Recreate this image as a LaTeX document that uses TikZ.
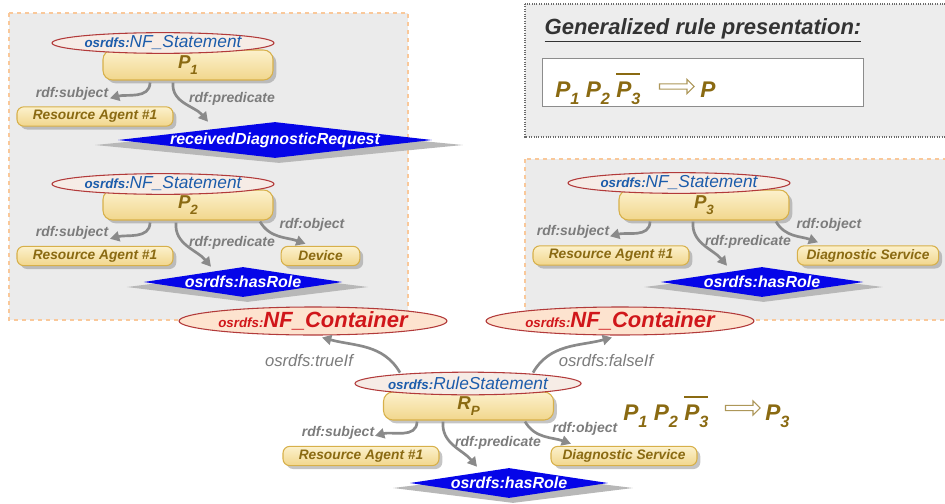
\documentclass[tikz,border=0pt]{standalone}
\usepackage{fontspec}
\setmainfont{Liberation Sans}
\usepackage{graphicx}
\usepackage{tikz}
\usetikzlibrary{arrows.meta,positioning,shapes.geometric,shapes.arrows,shadows,calc}
\definecolor{panel}{HTML}{EBEBEB}
\definecolor{panelrim}{HTML}{F9C89A}
\definecolor{rulerim}{HTML}{6A6A6A}
\definecolor{boxtop}{HTML}{FCF1CC}
\definecolor{boxbot}{HTML}{F1D68C}
\definecolor{boxrim}{HTML}{D7B04A}
\definecolor{ochre}{HTML}{8A6A12}
\definecolor{ovalfill}{HTML}{F6ECE6}
\definecolor{ovalrim}{HTML}{B23A3A}
\definecolor{stmtblue}{HTML}{1C5CAB}
\definecolor{contfill}{HTML}{FDE3CF}
\definecolor{contred}{HTML}{D0161A}
\definecolor{rolefill}{HTML}{0505E8}
\definecolor{edgegray}{HTML}{8A8A8A}
\definecolor{labelgray}{HTML}{7C7C7C}
\newcommand{\fsz}[1]{\fontsize{#1}{#1}\selectfont}
\newcommand{\idx}[1]{\raisebox{-.32em}{\scalebox{.72}{#1}}}
\newcommand{\negated}[1]{\leavevmode\vbox{\hrule height 1.8pt\kern 4.6pt\hbox{#1}}}
\newcommand{\osr}{{\fsz{10}\bfseries osrdfs:}}
\tikzset{
  >={Triangle[length=7pt,width=7.5pt]},
  rel/.style={->,line width=2pt,draw=edgegray},
  rellabel/.style={font=\fsz{10.5}\bfseries\itshape,text=labelgray,inner sep=0},
  iflabel/.style={font=\fsz{12.5}\itshape,text=labelgray,inner sep=0},
  stmtbox/.style={rounded corners=2.5mm,draw=boxrim,line width=.8pt,top color=boxtop,bottom color=boxbot,
    minimum width=127.5pt,minimum height=22.5pt,inner sep=0,font=\fsz{14}\bfseries\itshape,text=ochre,
    drop shadow={shadow xshift=2.5pt,shadow yshift=-2.5pt,fill=black!45}},
  resbox/.style={stmtbox,rounded corners=1.8mm,minimum width=117pt,minimum height=14.5pt,
    font=\fsz{10.3}\bfseries\itshape},
  stmtoval/.style={ellipse,draw=ovalrim,line width=.8pt,fill=ovalfill,inner sep=0,
    minimum width=150pt,minimum height=15.5pt,font=\fsz{13}\itshape,text=stmtblue},
  contoval/.style={stmtoval,fill=contfill,minimum width=178pt,minimum height=21pt,
    font=\fsz{16.5}\bfseries\itshape,text=contred},
  rolediamond/.style={diamond,aspect=8,fill=rolefill,inner xsep=0,inner ysep=-4pt,
    minimum height=22.5pt,font=\fsz{12}\bfseries\itshape,text=white},
  roleshade/.style={diamond,aspect=8,fill=black!28,inner sep=0,minimum height=22.5pt},
  panelbox/.style={draw=panelrim,fill=panel,dashed,line width=.8pt},
  impl/.style={single arrow,draw=ochre!70,fill=white,line width=.8pt,minimum height=26pt,
    inner sep=1.6pt,single arrow head extend=3.4pt},
  formula/.style={font=\fsz{17}\bfseries\itshape,text=ochre,inner sep=0,anchor=base west}
}
\begin{document}
\begin{tikzpicture}[x=0.75pt,y=-0.75pt]
  \useasboundingbox (0,0) rectangle (945,503);
  % panels
  \filldraw[panelbox] (9,13) rectangle (408,320);
  \filldraw[panelbox] (525,159) rectangle (955,320);
  \filldraw[draw=rulerim,fill=black!7,densely dotted,line width=.8pt] (525,4) rectangle (955,137);
  \node[font=\fsz{16.5}\bfseries\itshape,text=black!80] (title) at (703,30) {\underline{Generalized rule presentation:}};
  \node[draw=black!45,fill=white,line width=.6pt,minimum width=240.75pt,minimum height=36pt] (rulebox) at (702.5,82) {};
  \node[formula] (f1) at (555,97) {P\idx{1} P\idx{2} \negated{P\idx{3}}};
  \node[impl] (i1) at (675.5,86.5) {};
  \node[formula] (c1) at (700,97) {P};

  % P1
  \node[stmtbox] (p1) at (188,65) {P\idx{1}};
  \node[stmtoval] (s1) at (163,43) {\osr NF\_Statement};
  \node[resbox] (ra1) at (95,116.5) {Resource Agent \#1};
  \node[roleshade,minimum width=276pt,minimum height=27pt] (d1sh) at (279,145) {};
  \node[rolediamond,minimum width=235.5pt,minimum height=27pt] (d1) at (275,140) {receivedDiagnosticRequest};
  \node[rellabel] (subj1) at (72,94) {rdf:subject};
  \node[rellabel] (pred1) at (232,99) {rdf:predicate};
  \draw[rel] ($(p1.south)+(-38,2)$) to[out=-90,in=15] ($(ra1.north)+(15,-8)$);
  \draw[rel] ($(p1.south)+(-15,2)$) to[out=-95,in=130] ($(d1.north)+(-67,0)$);

  % P2
  \node[stmtbox] (p2) at (188,205) {P\idx{2}};
  \node[stmtoval] (s2) at (163,184) {\osr NF\_Statement};
  \node[resbox] (ra2) at (95,256) {Resource Agent \#1};
  \node[resbox,minimum width=59pt] (dev) at (320.5,256) {Device};
  \node[roleshade,minimum width=181pt] (d2sh) at (247.5,287) {};
  \node[rolediamond,minimum width=149pt] (d2) at (243,282) {osrdfs:hasRole};
  \node[rellabel] (subj2) at (72,233) {rdf:subject};
  \node[rellabel] (pred2) at (232,243) {rdf:predicate};
  \node[rellabel] (obj2) at (312,225) {rdf:object};
  \draw[rel] ($(p2.south)+(-38,2)$) to[out=-90,in=15] ($(ra2.north)+(15,-7)$);
  \draw[rel] ($(p2.south)+(-12,2)$) to[out=-95,in=130] ($(d2.north)+(-32,0)$);
  \draw[rel] ($(p2.south)+(72,1)$) to[out=-60,in=160] ($(dev.north)+(-15,-2)$);

  % P3
  \node[stmtbox] (p3) at (704,205) {P\idx{3}};
  \node[stmtoval] (s3) at (679,183) {\osr NF\_Statement};
  \node[resbox] (ra3) at (611,255.5) {Resource Agent \#1};
  \node[resbox,minimum width=106pt] (dsv3) at (868,255.5) {Diagnostic Service};
  \node[roleshade,minimum width=179pt] (d3sh) at (763.5,287) {};
  \node[rolediamond,minimum width=152pt] (d3) at (762,282) {osrdfs:hasRole};
  \node[rellabel] (subj3) at (573,232) {rdf:subject};
  \node[rellabel] (pred3) at (748,242) {rdf:predicate};
  \node[rellabel] (obj3) at (829,225) {rdf:object};
  \draw[rel] ($(p3.south)+(-54,1)$) to[out=-90,in=15] ($(ra3.north)+(-1,-9)$);
  \draw[rel] ($(p3.south)+(-11,1)$) to[out=-95,in=130] ($(d3.north)+(-35,-1)$);
  \draw[rel] ($(p3.south)+(72,1)$) to[out=-60,in=160] ($(dsv3.north)+(-50,-3)$);

  % containers
  \node[contoval] (nfcL) at (313,321) {\osr NF\_Container};
  \node[contoval] (nfcR) at (620,321) {\osr NF\_Container};

  % rule statement
  \node[stmtbox,minimum height=21pt] (rp) at (468.5,406) {R\idx{P}};
  \node[stmtoval,minimum width=154.5pt,minimum height=17pt] (rs) at (468,383.5) {\osr RuleStatement};
  \node[resbox] (rar) at (361,456) {Resource Agent \#1};
  \node[resbox,minimum width=109.5pt] (dsvr) at (624,456) {Diagnostic Service};
  \node[roleshade,minimum width=180pt] (rdsh) at (513,488) {};
  \node[rolediamond,minimum width=148.5pt] (rd) at (509,483) {osrdfs:hasRole};
  \node[iflabel] (truel) at (309,361) {osrdfs:trueIf};
  \node[iflabel] (falsel) at (606,361) {osrdfs:falseIf};
  \node[rellabel] (subjr) at (338,433) {rdf:subject};
  \node[rellabel] (predr) at (498,443) {rdf:predicate};
  \node[rellabel] (objr) at (585,429) {rdf:object};
  \draw[rel] ($(rs.north)+(-68,1)$) to[out=120,in=-15] ($(nfcL.south)+(9,2)$);
  \draw[rel] ($(rs.north)+(65,1)$) to[out=60,in=195] ($(nfcR.south)+(-8,2)$);
  \draw[rel] ($(rp.south)+(-51.5,1)$) to[out=-90,in=15] ($(rar.north)+(14,-10)$);
  \draw[rel] ($(rp.south)+(-25.5,1)$) to[out=-95,in=130] ($(rd.north)+(-32,-1)$);
  \draw[rel] ($(rp.south)+(56.5,1)$) to[out=-60,in=160] ($(dsvr.north)+(-53,-2)$);

  % rule in text form
  \node[formula] (f2) at (623,420) {P\idx{1} P\idx{2} \negated{P\idx{3}}};
  \node[impl] (i2) at (741.5,408) {};
  \node[formula] (c2) at (765,420) {P\idx{3}};
\end{tikzpicture}
\end{document}
